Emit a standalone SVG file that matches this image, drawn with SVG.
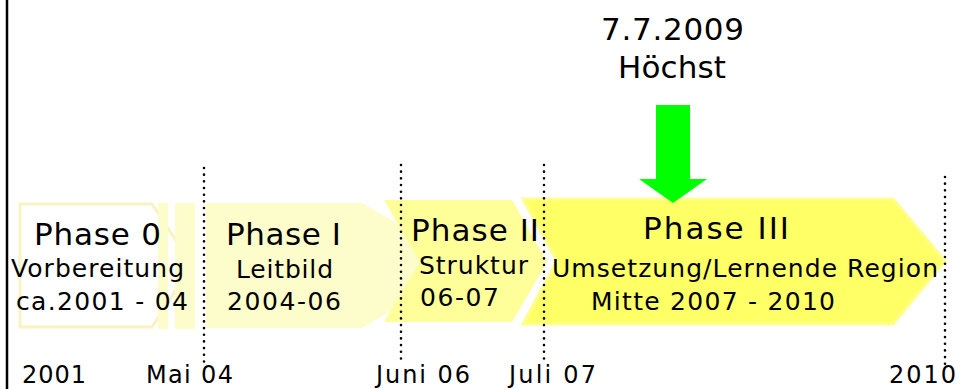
<svg xmlns="http://www.w3.org/2000/svg" width="961" height="389" viewBox="0 0 961 389">
<style>
text{font-family:"DejaVu Sans","Verdana","Liberation Sans",sans-serif;fill:#000;}
.t{font-size:31px;}
.s{font-size:25px;}
.b{font-size:24px;}
.dot{stroke:#000;stroke-width:2.6;stroke-linecap:round;stroke-dasharray:0 6.67;fill:none;}
.p1{fill:#fdfdcc;}
.p2{fill:#ffff99;}
.p3{fill:#ffff66;stroke:#ffff8f;stroke-width:3;stroke-linejoin:miter;}
</style>
<rect x="0" y="0" width="961" height="389" fill="#fff"/>
<line x1="7" y1="0" x2="7" y2="389" stroke="#000" stroke-width="2.5"/>

<g id="phase0">
<polygon points="20,204 152,204 192,265 152,327 20,327" fill="#fff" stroke="#f7f3c2" stroke-width="3"/>
<rect class="p1" x="158" y="203" width="10" height="126"/>
<rect class="p1" x="175" y="203" width="20" height="126"/>
<text class="t" x="34" y="245" textLength="127" lengthAdjust="spacing">Phase 0</text>
<text class="s" x="11" y="277" textLength="173" lengthAdjust="spacing">Vorbereitung</text>
<text class="s" x="16" y="310" textLength="172" lengthAdjust="spacing">ca.2001 - 04</text>
</g>

<g id="phase1">
<polygon class="p1" points="206,203 362,203 470,265 362,328 206,328"/>
<text class="t" x="226" y="245" textLength="115" lengthAdjust="spacing">Phase I</text>
<text class="s" x="236" y="278" textLength="97" lengthAdjust="spacing">Leitbild</text>
<text class="s" x="227" y="310" textLength="114" lengthAdjust="spacing">2004-06</text>
</g>

<g id="phase3">
<polygon class="p3" points="523,199 893,199 945,261 893,324 523,324 557,261"/>
<text class="t" x="643" y="239" textLength="146" lengthAdjust="spacing">Phase III</text>
<text class="s" x="552" y="277" textLength="386" lengthAdjust="spacing">Umsetzung/Lernende Region</text>
<text class="s" x="591" y="310" textLength="244" lengthAdjust="spacing">Mitte 2007 - 2010</text>
</g>

<g id="phase2">
<polygon class="p2" points="384,200 512,200 547,262 512,322 384,322 420,262"/>
<text class="t" x="411" y="241" textLength="128" lengthAdjust="spacing">Phase II</text>
<text class="s" x="419" y="274" textLength="109" lengthAdjust="spacing">Struktur</text>
<text class="s" x="420" y="306" textLength="79" lengthAdjust="spacing">06-07</text>
</g>

<g id="note">
<text class="t" x="601" y="40" textLength="143" lengthAdjust="spacing">7.7.2009</text>
<text class="t" x="618" y="78" textLength="108" lengthAdjust="spacing">Höchst</text>
</g>

<g id="timeline">
<line class="dot" x1="204" y1="168" x2="204" y2="362"/>
<line class="dot" x1="401" y1="165" x2="401" y2="360"/>
<line class="dot" x1="544" y1="165" x2="544" y2="360"/>
<line class="dot" x1="945" y1="177" x2="945" y2="370"/>
<text class="b" x="22" y="383" textLength="64" lengthAdjust="spacing">2001</text>
<text class="b" x="146" y="383" textLength="87" lengthAdjust="spacing">Mai 04</text>
<text class="b" x="376" y="383" textLength="94" lengthAdjust="spacing">Juni 06</text>
<text class="b" x="509" y="383" textLength="87" lengthAdjust="spacing">Juli 07</text>
<text class="b" x="889" y="383" textLength="67" lengthAdjust="spacing">2010</text>
</g>

<g id="connectors">
<polygon points="656,105 690,105 690,179 707,179 673,203 639,179 656,179" fill="#00ff00"/>
</g>
</svg>
